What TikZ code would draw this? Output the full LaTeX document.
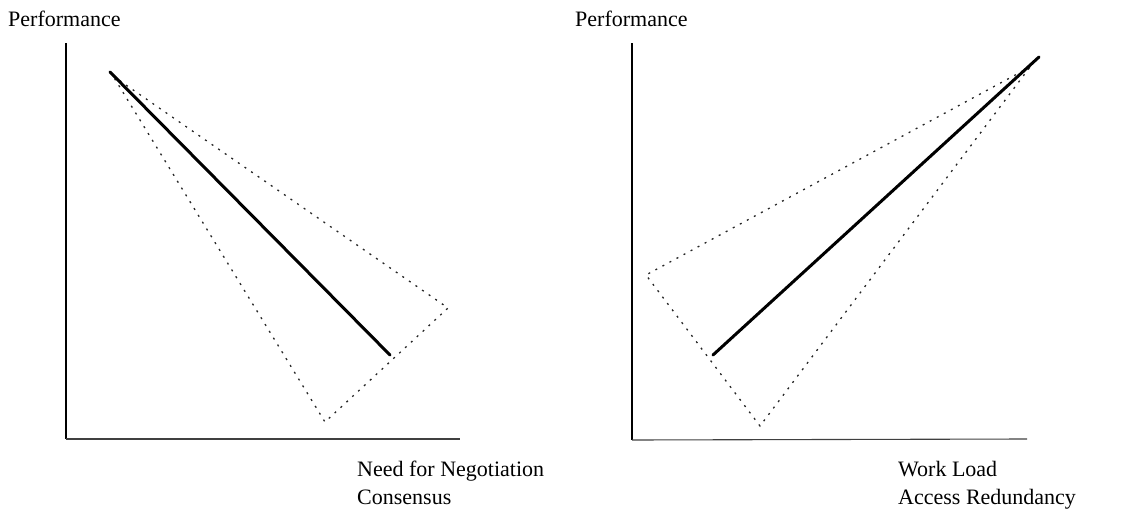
\documentclass[tikz,border=0pt]{standalone}
\usepackage{fontspec}
\setmainfont{Liberation Serif}
\begin{document}
\begin{tikzpicture}[x=1pt,y=-1pt,
  axisv/.style={line width=2.6pt,line cap=butt},
  axish/.style={line width=1.1pt,black!75},
  solidline/.style={line width=3pt,line cap=round},
  dotline/.style={line width=1.3pt,dash pattern=on 2pt off 6pt,black!85},
  lbl/.style={anchor=base west,inner sep=0pt,font=\fontsize{22}{26}\selectfont}]
\useasboundingbox (0,0) rectangle (1133,514);
% left panel
\coordinate (LT) at (66,43);
\coordinate (LO) at (66,439);
\coordinate (LX) at (460,439);
\coordinate (LA) at (110,72);
\coordinate (LB) at (390,355);
\coordinate (LP) at (113,76);
\coordinate (LQ) at (448,308);
\coordinate (LR) at (325,422);
\draw[axisv] (LT) -- (LO);
\draw[axish] (LO) -- (LX);
\draw[dotline] (LP) -- (LQ) -- (LR) -- cycle;
\draw[solidline] (LA) -- (LB);
\node[lbl] (ly) at (8,27) {Performance};
\node[lbl] (lx1) at (357,476) {Need for Negotiation};
\node[lbl] (lx2) at (357,504) {Consensus};
% right panel
\coordinate (RT) at (632,43);
\coordinate (RO) at (632,440);
\coordinate (RX) at (1027,439);
\coordinate (RA) at (713,355);
\coordinate (RB) at (1039,57);
\coordinate (RP) at (1030,67);
\coordinate (RQ) at (646,275);
\coordinate (RR) at (760,426);
\draw[axisv] (RT) -- (RO);
\draw[axish] (RO) -- (RX);
\draw[dotline] (RP) -- (RQ) -- (RR) -- cycle;
\draw[solidline] (RA) -- (RB);
\node[lbl] (ry) at (575,27) {Performance};
\node[lbl] (rx1) at (898,476) {Work Load};
\node[lbl] (rx2) at (898,504) {Access Redundancy};
\end{tikzpicture}
\end{document}
